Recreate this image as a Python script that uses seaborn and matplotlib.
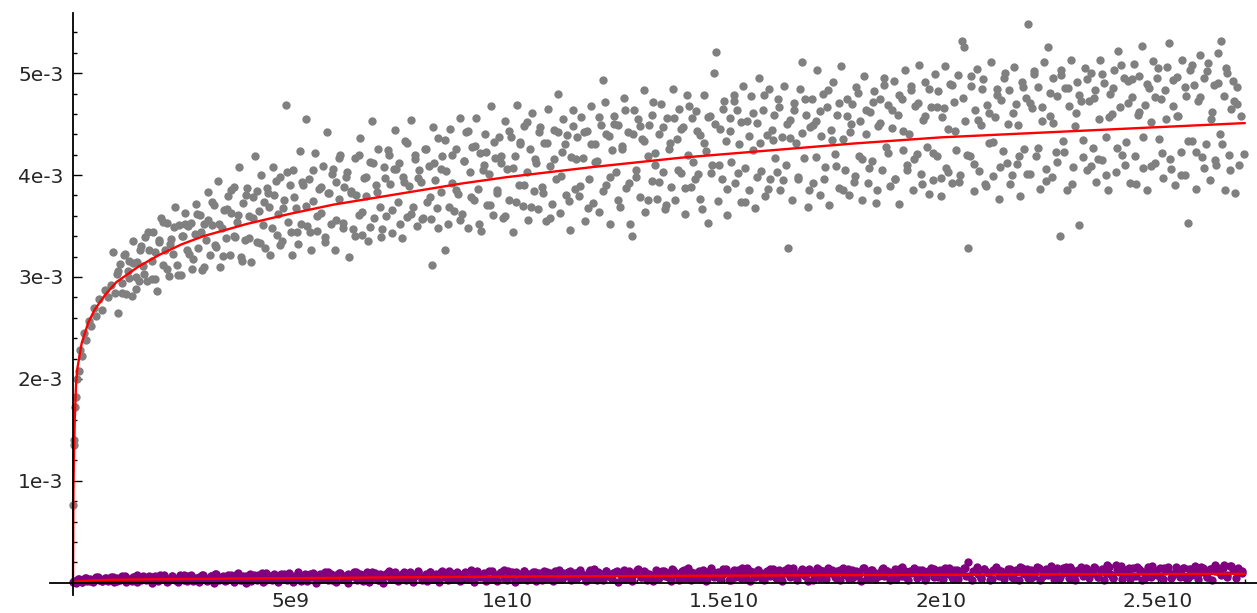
import numpy as np
import pandas as pd
import matplotlib
matplotlib.use("Agg")
import matplotlib.pyplot as plt
import seaborn as sns

# Gray scatter: x in units of 1e7, y in units of 1e-5
GRAY_X = [
    1, 2, 3, 5, 7, 10, 13, 17, 21, 26, 31, 36, 42, 48, 54, 60, 67, 74, 81, 88,
    93, 97, 101, 104, 108, 113, 117, 121, 126, 130, 135, 139, 144, 148, 153, 157, 162, 166, 171, 176,
    181, 185, 190, 194, 199, 203, 208, 212, 217, 221, 226, 230, 235, 239, 244, 248, 253, 257, 262, 266,
    271, 275, 280, 284, 289, 293, 298, 302, 307, 311, 316, 320, 325, 329, 334, 338, 343, 347, 352, 356,
    361, 365, 370, 374, 379, 383, 388, 392, 397, 401, 406, 410, 415, 419, 424, 428, 433, 437, 442, 446,
    451, 455, 460, 464, 469, 473, 478, 482, 487, 490, 495, 499, 504, 508, 513, 517, 522, 526, 531, 536,
    540, 544, 549, 553, 558, 562, 567, 571, 576, 580, 585, 589, 594, 598, 603, 607, 612, 616, 621, 625,
    630, 636, 640, 644, 649, 653, 658, 662, 667, 671, 676, 680, 685, 689, 694, 698, 703, 707, 712, 716,
    721, 725, 730, 734, 739, 743, 748, 752, 757, 761, 766, 770, 775, 779, 784, 788, 793, 797, 802, 806,
    811, 815, 820, 824, 827, 829, 833, 838, 842, 847, 851, 857, 860, 865, 869, 874, 878, 883, 887, 892,
    896, 901, 905, 910, 914, 919, 923, 928, 932, 937, 941, 946, 950, 955, 959, 964, 968, 973, 977, 982,
    986, 991, 995, 1000, 1004, 1009, 1013, 1018, 1022, 1027, 1031, 1036, 1040, 1045, 1049, 1054, 1058, 1063, 1067, 1072,
    1076, 1081, 1085, 1090, 1094, 1099, 1103, 1108, 1112, 1117, 1121, 1126, 1130, 1135, 1139, 1144, 1148, 1153, 1157, 1162,
    1166, 1171, 1175, 1180, 1184, 1189, 1193, 1198, 1202, 1207, 1211, 1216, 1220, 1225, 1229, 1234, 1238, 1243, 1247, 1252,
    1256, 1261, 1265, 1270, 1274, 1279, 1283, 1288, 1292, 1297, 1301, 1306, 1310, 1315, 1319, 1324, 1328, 1333, 1337, 1342,
    1346, 1351, 1355, 1360, 1364, 1369, 1373, 1378, 1382, 1387, 1391, 1396, 1400, 1405, 1409, 1414, 1418, 1423, 1427, 1432,
    1436, 1441, 1445, 1450, 1454, 1459, 1463, 1468, 1472, 1477, 1481, 1486, 1490, 1495, 1499, 1504, 1508, 1513, 1517, 1522,
    1526, 1531, 1535, 1540, 1544, 1549, 1553, 1558, 1562, 1567, 1571, 1576, 1580, 1585, 1589, 1594, 1598, 1603, 1607, 1612,
    1616, 1621, 1625, 1630, 1634, 1639, 1643, 1648, 1652, 1657, 1661, 1666, 1670, 1675, 1679, 1684, 1688, 1693, 1697, 1702,
    1706, 1711, 1715, 1720, 1724, 1729, 1733, 1738, 1742, 1747, 1751, 1756, 1760, 1765, 1769, 1774, 1778, 1783, 1787, 1792,
    1796, 1801, 1805, 1810, 1814, 1819, 1823, 1828, 1832, 1837, 1841, 1846, 1850, 1855, 1859, 1864, 1868, 1873, 1877, 1882,
    1886, 1891, 1895, 1900, 1904, 1909, 1913, 1918, 1922, 1927, 1931, 1936, 1940, 1945, 1949, 1954, 1958, 1963, 1967, 1972,
    1976, 1981, 1985, 1990, 1994, 1999, 2003, 2008, 2012, 2017, 2021, 2026, 2030, 2035, 2039, 2044, 2048, 2052, 2056, 2061,
    2066, 2070, 2075, 2079, 2084, 2088, 2093, 2097, 2102, 2106, 2111, 2115, 2120, 2124, 2129, 2133, 2138, 2142, 2147, 2151,
    2156, 2160, 2165, 2169, 2174, 2178, 2183, 2187, 2192, 2196, 2201, 2205, 2210, 2214, 2219, 2223, 2228, 2232, 2237, 2241,
    2246, 2250, 2255, 2259, 2264, 2268, 2273, 2277, 2282, 2286, 2291, 2295, 2300, 2304, 2309, 2313, 2318, 2322, 2327, 2331,
    2336, 2340, 2345, 2349, 2354, 2358, 2363, 2367, 2372, 2376, 2381, 2385, 2390, 2394, 2399, 2403, 2408, 2412, 2417, 2421,
    2426, 2430, 2435, 2439, 2444, 2448, 2453, 2457, 2462, 2466, 2471, 2475, 2480, 2484, 2489, 2493, 2498, 2502, 2507, 2511,
    2516, 2520, 2525, 2529, 2534, 2538, 2543, 2547, 2552, 2556, 2561, 2565, 2570, 2574, 2579, 2583, 2588, 2592, 2597, 2601,
    2606, 2610, 2615, 2619, 2624, 2628, 2633, 2637, 2642, 2646, 2651, 2655, 2660, 2664, 2669, 2673, 2678, 2682, 2687, 2692,
]
GRAY_Y = [
    76, 135, 140, 172, 182, 200, 208, 228, 222, 245, 238, 257, 252, 270, 262, 278, 268, 287, 280, 292,
    325, 284, 303, 265, 313, 294, 322, 283, 306, 316, 281, 335, 300, 315, 296, 330, 311, 339, 296, 326,
    298, 344, 325, 286, 336, 358, 312, 326, 353, 301, 337, 323, 369, 312, 351, 302, 340, 363, 326, 350,
    353, 308, 342, 372, 328, 361, 307, 352, 336, 383, 322, 351, 371, 329, 394, 310, 348, 366, 338, 379,
    322, 363, 388, 339, 354, 408, 320, 373, 336, 387, 360, 315, 378, 419, 334, 365, 400, 351, 328, 387,
    369, 322, 408, 380, 341, 362, 398, 335, 376, 469, 354, 390, 322, 405, 368, 344, 424, 352, 390, 455,
    350, 396, 326, 375, 422, 345, 386, 363, 409, 339, 442, 382, 352, 406, 326, 393, 377, 420, 348, 388,
    398, 320, 384, 347, 417, 380, 361, 436, 341, 397, 379, 335, 413, 453, 358, 390, 426, 369, 347, 408,
    360, 425, 391, 343, 406, 444, 374, 412, 338, 398, 433, 359, 389, 454, 369, 420, 350, 405, 393, 358,
    426, 374, 409, 357, 312, 447, 395, 368, 436, 383, 419, 326, 404, 352, 445, 392, 365, 426, 381, 456,
    362, 414, 442, 348, 403, 428, 376, 456, 386, 422, 345, 410, 440, 371, 401, 468, 361, 417, 385, 437,
    412, 358, 453, 406, 376, 437, 344, 419, 469, 390, 432, 370, 448, 403, 356, 426, 461, 384, 412, 367,
    447, 388, 431, 355, 465, 409, 372, 444, 396, 480, 363, 423, 455, 380, 439, 346, 418, 464, 386, 437,
    379, 457, 417, 355, 443, 396, 468, 373, 430, 414, 364, 449, 493, 472, 390, 438, 352, 425, 458, 403,
    449, 369, 426, 476, 387, 442, 352, 340, 464, 398, 455, 378, 435, 483, 364, 419, 449, 394, 472, 410,
    377, 440, 470, 403, 367, 456, 426, 388, 484, 376, 435, 465, 402, 447, 362, 479, 420, 388, 456, 396,
    463, 401, 439, 367, 479, 424, 353, 458, 410, 500, 521, 375, 445, 396, 473, 433, 361, 456, 413, 479,
    392, 464, 430, 374, 487, 407, 453, 385, 478, 425, 368, 451, 495, 404, 464, 379, 439, 484, 396, 434,
    459, 403, 475, 385, 437, 487, 410, 328, 454, 376, 471, 431, 396, 484, 511, 417, 459, 369, 447, 475,
    392, 453, 503, 380, 438, 480, 408, 467, 371, 444, 491, 421, 459, 387, 507, 435, 405, 475, 380, 450,
    470, 399, 486, 419, 453, 376, 497, 440, 392, 462, 414, 482, 373, 448, 475, 405, 495, 428, 469, 389,
    446, 492, 396, 459, 372, 475, 425, 503, 410, 440, 483, 385, 468, 421, 508, 401, 454, 491, 428, 381,
    467, 395, 499, 419, 482, 379, 457, 507, 407, 445, 489, 392, 472, 425, 498, 400, 532, 526, 453, 328,
    419, 487, 384, 464, 504, 404, 449, 494, 391, 469, 431, 511, 399, 457, 484, 377, 474, 424, 500, 412,
    483, 391, 461, 506, 411, 449, 379, 491, 426, 476, 548, 401, 466, 499, 419, 486, 386, 453, 511, 406,
    526, 458, 398, 495, 423, 478, 340, 503, 433, 485, 385, 468, 513, 408, 448, 491, 351, 473, 418, 505,
    405, 473, 500, 427, 483, 393, 455, 513, 415, 490, 437, 385, 480, 460, 503, 403, 522, 467, 420, 495,
    432, 492, 392, 477, 509, 419, 459, 497, 527, 407, 469, 385, 485, 452, 512, 412, 495, 435, 475, 397,
    483, 506, 530, 406, 468, 390, 496, 458, 423, 513, 400, 478, 353, 503, 433, 488, 386, 473, 518, 418,
    495, 430, 510, 395, 462, 488, 410, 520, 440, 532, 478, 385, 500, 420, 465, 492, 382, 470, 410, 458,
]
# denser core of the gray cloud
GRAY_X_CORE = [
    103, 112, 120, 129, 138, 146, 155, 164, 172, 181, 190, 198, 207, 216, 224, 233, 242, 250, 259, 268,
    276, 285, 294, 302, 311, 320, 328, 337, 346, 354, 363, 372, 380, 389, 398, 406, 415, 424, 432, 441,
    450, 458, 467, 476, 484, 493, 502, 510, 519, 528, 536, 545, 554, 562, 571, 580, 588, 597, 606, 614,
    623, 632, 640, 649, 658, 666, 675, 684, 692, 701, 710, 718, 727, 736, 744, 753, 762, 770, 779, 788,
    796, 805, 814, 822, 831, 840, 848, 857, 866, 874, 883, 892, 900, 909, 918, 926, 935, 944, 952, 961,
    969, 978, 987, 995, 1004, 1013, 1021, 1030, 1039, 1047, 1056, 1065, 1073, 1082, 1091, 1099, 1108, 1117, 1125, 1134,
    1142, 1151, 1160, 1168, 1177, 1186, 1194, 1203, 1212, 1220, 1229, 1238, 1246, 1255, 1264, 1272, 1281, 1290, 1298, 1307,
    1315, 1324, 1333, 1341, 1350, 1359, 1367, 1376, 1385, 1393, 1402, 1411, 1419, 1428, 1437, 1445, 1454, 1463, 1471, 1480,
    1488, 1497, 1506, 1514, 1523, 1532, 1540, 1549, 1558, 1566, 1575, 1584, 1592, 1601, 1610, 1618, 1627, 1636, 1644, 1653,
    1661, 1670, 1679, 1687, 1696, 1705, 1713, 1722, 1731, 1739, 1748, 1757, 1765, 1774, 1783, 1791, 1800, 1809, 1817, 1826,
    1834, 1843, 1852, 1860, 1869, 1878, 1886, 1895, 1904, 1912, 1921, 1930, 1938, 1947, 1956, 1964, 1973, 1982, 1990, 1999,
    2007, 2016, 2025, 2033, 2042, 2051, 2059, 2068, 2077, 2085, 2094, 2103, 2111, 2120, 2129, 2137, 2146, 2155, 2163, 2172,
    2180, 2189, 2198, 2206, 2215, 2224, 2232, 2241, 2250, 2258, 2267, 2276, 2284, 2293, 2302, 2310, 2319, 2328, 2336, 2345,
    2353, 2362, 2371, 2379, 2388, 2397, 2405, 2414, 2423, 2431, 2440, 2449, 2457, 2466, 2475, 2483, 2492, 2501, 2509, 2518,
    2527, 2535, 2544, 2553, 2561, 2570, 2579, 2587, 2596, 2605, 2613, 2622, 2631, 2639, 2648, 2657, 2665, 2674, 2683, 2697,
]
GRAY_Y_CORE = [
    306, 284, 323, 299, 314, 288, 326, 303, 344, 316, 298, 334, 354, 308, 332, 349, 302, 340, 352, 323,
    318, 362, 344, 310, 356, 374, 331, 352, 321, 367, 385, 340, 361, 316, 380, 338, 358, 384, 333, 374,
    382, 348, 394, 331, 368, 403, 344, 378, 332, 393, 370, 344, 405, 360, 388, 334, 382, 401, 356, 417,
    353, 403, 382, 340, 420, 364, 398, 349, 412, 383, 339, 397, 420, 366, 406, 352, 393, 431, 362, 416,
    397, 357, 426, 378, 412, 348, 406, 434, 369, 420, 385, 356, 414, 443, 378, 429, 352, 405, 423, 371,
    432, 382, 419, 360, 443, 407, 374, 430, 390, 452, 369, 416, 442, 382, 431, 358, 416, 442, 399, 430,
    375, 448, 416, 389, 442, 368, 430, 413, 457, 384, 440, 398, 450, 376, 429, 464, 392, 440, 405, 448,
    433, 376, 459, 422, 393, 447, 371, 431, 456, 405, 445, 387, 468, 413, 443, 377, 431, 457, 402, 450,
    410, 465, 386, 443, 473, 402, 452, 374, 438, 461, 398, 431, 479, 386, 444, 417, 467, 395, 450, 436,
    464, 398, 441, 475, 385, 449, 418, 463, 396, 483, 434, 409, 471, 385, 458, 442, 393, 481, 416, 464,
    407, 472, 385, 451, 488, 422, 464, 396, 479, 443, 405, 487, 416, 471, 391, 458, 484, 422, 467, 397,
    466, 403, 488, 443, 393, 476, 420, 497, 411, 454, 484, 389, 461, 432, 479, 408, 495, 450, 400, 470,
    419, 486, 401, 471, 502, 427, 467, 394, 481, 451, 413, 498, 423, 485, 391, 461, 479, 434, 494, 409,
    476, 416, 499, 400, 457, 485, 427, 508, 410, 471, 494, 391, 462, 437, 489, 409, 477, 505, 422, 455,
    416, 493, 458, 400, 486, 433, 508, 423, 477, 407, 502, 455, 415, 490, 430, 505, 405, 473, 486, 421,
]

# Purple scatter: x in units of 1e7, y in units of 1e-6
PURPLE_X = [
    1, 6, 13, 20, 27, 33, 40, 47, 54, 60, 67, 74, 81, 87, 94, 101, 108, 114, 121, 128,
    135, 141, 148, 155, 162, 168, 175, 182, 189, 195, 202, 209, 216, 222, 229, 236, 243, 249, 256, 263,
    270, 276, 283, 290, 297, 303, 310, 317, 324, 330, 337, 344, 351, 357, 364, 371, 378, 384, 391, 398,
    405, 411, 418, 425, 432, 438, 445, 452, 459, 465, 472, 479, 486, 492, 499, 506, 513, 519, 526, 533,
    540, 546, 553, 560, 567, 573, 580, 587, 594, 600, 607, 614, 621, 627, 634, 641, 648, 654, 661, 668,
    675, 681, 688, 695, 702, 708, 715, 722, 729, 735, 742, 749, 756, 762, 769, 776, 783, 789, 796, 803,
    810, 816, 823, 830, 837, 843, 850, 857, 864, 870, 877, 884, 891, 897, 904, 911, 918, 924, 931, 938,
    945, 951, 958, 965, 972, 978, 985, 992, 999, 1005, 1012, 1019, 1026, 1032, 1039, 1046, 1053, 1059, 1066, 1073,
    1080, 1086, 1093, 1100, 1107, 1113, 1120, 1127, 1134, 1140, 1147, 1154, 1161, 1167, 1174, 1181, 1188, 1194, 1201, 1208,
    1215, 1221, 1228, 1235, 1242, 1248, 1255, 1262, 1269, 1275, 1282, 1289, 1296, 1302, 1309, 1316, 1323, 1329, 1336, 1343,
    1350, 1356, 1363, 1370, 1377, 1383, 1390, 1397, 1404, 1410, 1417, 1424, 1431, 1437, 1444, 1451, 1458, 1464, 1471, 1478,
    1485, 1491, 1498, 1505, 1512, 1518, 1525, 1532, 1539, 1545, 1552, 1559, 1566, 1572, 1579, 1586, 1593, 1599, 1606, 1613,
    1620, 1626, 1633, 1640, 1647, 1653, 1660, 1667, 1674, 1680, 1687, 1694, 1701, 1707, 1714, 1721, 1728, 1734, 1741, 1748,
    1755, 1761, 1768, 1775, 1782, 1788, 1795, 1802, 1809, 1815, 1822, 1829, 1836, 1842, 1849, 1856, 1863, 1869, 1876, 1883,
    1890, 1896, 1903, 1910, 1917, 1923, 1930, 1937, 1944, 1950, 1957, 1964, 1971, 1977, 1984, 1991, 1998, 2004, 2011, 2018,
    2025, 2031, 2038, 2045, 2052, 2058, 2062, 2072, 2079, 2085, 2092, 2099, 2106, 2112, 2119, 2126, 2133, 2139, 2146, 2153,
    2160, 2166, 2173, 2180, 2187, 2193, 2200, 2207, 2214, 2220, 2227, 2234, 2241, 2247, 2254, 2261, 2268, 2274, 2281, 2288,
    2295, 2301, 2308, 2315, 2322, 2328, 2335, 2342, 2349, 2355, 2362, 2369, 2376, 2382, 2389, 2396, 2403, 2409, 2416, 2423,
    2430, 2436, 2443, 2450, 2457, 2463, 2470, 2477, 2484, 2490, 2497, 2504, 2511, 2517, 2524, 2531, 2538, 2544, 2551, 2558,
    2565, 2571, 2578, 2585, 2592, 2598, 2605, 2612, 2619, 2625, 2632, 2639, 2646, 2652, 2659, 2666, 2673, 2679, 2686, 2693,
]
PURPLE_Y = [
    7, 2, 37, 7, 51, 22, 37, 6, 59, 31, 14, 50, 22, 58, 6, 43, 28, 64, 12, 40,
    20, 58, 5, 41, 69, 29, 52, -1, 65, 17, 47, 75, 10, 41, 64, 26, 6, 58, 81, 22,
    67, 17, 48, 6, 80, 43, 23, 64, 1, 87, 31, 57, 15, 75, 42, 10, 90, 29, 63, 1,
    56, 14, 80, 32, 68, 3, 95, 48, 24, 76, 9, 56, 90, 30, 73, 3, 53, 101, 21, 66,
    16, 86, 57, 2, 75, 35, 106, 26, 83, 50, 11, 97, 41, 71, 1, 65, 110, 32, 82, 15,
    76, 9, 101, 56, 27, 90, 2, 70, 115, 41, 83, 18, 61, 102, 34, 96, 9, 67, 110, 27,
    65, 17, 101, 41, 84, 6, 116, 59, 27, 97, 49, 109, 15, 78, 93, 36, 123, 10, 73, 53,
    89, 14, 114, 39, 71, 22, 102, 122, 32, 65, 108, 8, 83, 51, 119, 26, 89, 106, 16, 77,
    30, 112, 50, 97, 14, 85, 128, 38, 71, 108, 23, 94, 49, 122, 66, 14, 104, 45, 133, 30,
    85, 23, 120, 70, 35, 108, 11, 81, 126, 48, 101, 21, 91, 137, 57, 115, 32, 77, 15, 97,
    42, 116, 63, 100, 18, 130, 80, 31, 114, 51, 144, 27, 94, 77, 39, 125, 15, 108, 140, 58,
    110, 35, 85, 136, 26, 99, 59, 123, 43, 76, 143, 21, 107, 52, 130, 82, 32, 117, 64, 134,
    43, 123, 21, 91, 141, 58, 113, 31, 98, 134, 69, 19, 109, 86, 144, 49, 119, 34, 96, 129,
    57, 117, 27, 140, 80, 40, 128, 66, 106, 21, 148, 91, 48, 124, 35, 99, 139, 62, 115, 27,
    102, 39, 135, 67, 118, 26, 96, 148, 48, 123, 73, 30, 113, 140, 58, 106, 130, 38, 91, 144,
    54, 127, 34, 109, 144, 67, 202, 30, 120, 88, 45, 138, 102, 25, 122, 150, 63, 116, 39, 96,
    136, 51, 101, 31, 143, 87, 42, 127, 64, 154, 27, 110, 132, 74, 117, 38, 143, 61, 98, 151,
    48, 125, 31, 109, 159, 69, 132, 42, 94, 142, 56, 119, 29, 175, 87, 47, 170, 105, 37, 125,
    115, 40, 147, 65, 133, 30, 100, 156, 56, 124, 76, 141, 38, 111, 151, 48, 91, 131, 61, 146,
    46, 138, 72, 122, 37, 152, 107, 57, 132, 32, 115, 147, 79, 178, 53, 163, 128, 43, 106, 98,
]
PURPLE_X_CORE = [
    3, 12, 21, 30, 39, 48, 57, 66, 75, 84, 93, 102, 111, 120, 129, 138, 147, 156, 165, 174,
    183, 192, 201, 210, 219, 228, 237, 246, 255, 264, 273, 282, 291, 300, 309, 318, 327, 336, 345, 354,
    363, 372, 381, 390, 399, 408, 417, 426, 435, 444, 453, 462, 471, 480, 489, 498, 507, 516, 525, 534,
    543, 552, 561, 570, 579, 588, 597, 606, 615, 624, 633, 642, 651, 660, 669, 678, 687, 696, 705, 714,
    723, 732, 741, 750, 759, 768, 777, 786, 795, 804, 813, 822, 831, 840, 849, 858, 867, 876, 885, 894,
    903, 912, 921, 930, 939, 948, 957, 966, 975, 984, 993, 1002, 1011, 1020, 1029, 1038, 1047, 1056, 1065, 1074,
    1083, 1092, 1101, 1110, 1119, 1128, 1137, 1146, 1155, 1164, 1173, 1182, 1191, 1200, 1209, 1218, 1227, 1236, 1245, 1254,
    1263, 1272, 1281, 1290, 1299, 1308, 1317, 1326, 1335, 1344, 1353, 1362, 1371, 1380, 1389, 1398, 1407, 1416, 1425, 1434,
    1443, 1452, 1461, 1470, 1479, 1488, 1497, 1506, 1515, 1524, 1533, 1542, 1551, 1560, 1569, 1578, 1587, 1596, 1605, 1614,
    1623, 1632, 1641, 1650, 1659, 1668, 1677, 1686, 1695, 1704, 1713, 1722, 1731, 1740, 1749, 1758, 1767, 1776, 1785, 1794,
    1803, 1812, 1821, 1830, 1839, 1848, 1857, 1866, 1875, 1884, 1893, 1902, 1911, 1920, 1929, 1938, 1947, 1956, 1965, 1974,
    1983, 1992, 2001, 2010, 2019, 2028, 2037, 2046, 2055, 2064, 2073, 2082, 2091, 2100, 2109, 2118, 2127, 2136, 2145, 2154,
    2163, 2172, 2181, 2190, 2199, 2208, 2217, 2226, 2235, 2244, 2253, 2262, 2271, 2280, 2289, 2298, 2307, 2316, 2325, 2334,
    2343, 2352, 2361, 2370, 2379, 2388, 2397, 2406, 2415, 2424, 2433, 2442, 2451, 2460, 2469, 2478, 2487, 2496, 2505, 2514,
    2523, 2532, 2541, 2550, 2559, 2568, 2577, 2586, 2595, 2604, 2613, 2622, 2631, 2640, 2649, 2658, 2667, 2676, 2685, 2694,
]
PURPLE_Y_CORE = [
    14, 35, 8, 46, 18, 39, 57, 14, 47, 33, 57, 15, 40, 66, 23, 54, 72, 30, 51, 64,
    56, 26, 73, 47, 20, 66, 41, 81, 27, 62, 77, 33, 56, 74, 21, 67, 87, 42, 70, 28,
    75, 49, 91, 26, 66, 84, 37, 72, 98, 25, 63, 89, 46, 82, 33, 95, 60, 77, 26, 88,
    66, 95, 35, 82, 53, 103, 28, 77, 94, 41, 87, 65, 108, 35, 80, 101, 51, 91, 30, 77,
    92, 38, 108, 71, 85, 29, 102, 62, 115, 45, 90, 108, 38, 81, 101, 62, 115, 35, 95, 73,
    103, 38, 88, 117, 64, 99, 34, 111, 77, 95, 45, 120, 70, 102, 33, 116, 83, 51, 109, 91,
    44, 104, 82, 120, 33, 98, 73, 115, 51, 109, 89, 29, 126, 79, 105, 45, 120, 70, 97, 114,
    96, 41, 116, 78, 128, 59, 107, 89, 29, 122, 72, 113, 53, 136, 93, 38, 121, 79, 107, 49,
    114, 82, 38, 128, 95, 55, 135, 106, 31, 121, 89, 141, 49, 113, 80, 127, 37, 102, 134, 62,
    101, 35, 128, 88, 141, 53, 113, 79, 134, 29, 106, 126, 62, 146, 94, 45, 123, 85, 137, 50,
    118, 84, 141, 44, 126, 98, 62, 147, 112, 35, 132, 89, 152, 58, 118, 138, 70, 126, 43, 108,
    133, 58, 113, 147, 89, 39, 127, 104, 141, 64, 120, 152, 50, 132, 98, 35, 145, 111, 86, 139,
    53, 126, 151, 93, 137, 44, 112, 144, 70, 130, 160, 103, 38, 141, 115, 151, 63, 126, 92, 144,
    119, 156, 54, 134, 99, 150, 43, 125, 165, 90, 140, 67, 153, 113, 50, 134, 161, 98, 61, 144,
    128, 64, 156, 116, 144, 48, 135, 165, 97, 149, 59, 132, 172, 107, 142, 73, 160, 123, 146, 113,
]

# Red fitted curves: x in units of 1e9
GRAY_FIT_X = [0, 0.005, 0.01, 0.02, 0.04, 0.07, 0.1, 0.2, 0.35, 0.5, 0.75, 1, 1.5, 2, 2.5, 3,
              4, 5, 6, 7, 8, 9, 10, 12, 14, 16, 18, 20, 22, 24, 26, 27]
GRAY_FIT_Y = [0, 0.5, 0.9, 1.2, 1.6, 1.95, 2.1, 2.35, 2.55, 2.68, 2.83, 2.95, 3.1, 3.22, 3.32, 3.4,
              3.52, 3.62, 3.71, 3.78, 3.85, 3.92, 3.98, 4.08, 4.17, 4.24, 4.31, 4.37, 4.41, 4.45, 4.49, 4.51]  # 1e-3
PURPLE_FIT_X = [0, 0.05, 0.2, 0.5, 1, 2, 3, 5, 8, 10, 12, 15, 18, 20, 22, 25, 27]
PURPLE_FIT_Y = [0, 10, 18, 25, 30, 35, 39, 45, 55, 60, 64, 70, 75, 78, 81, 85, 88]  # 1e-6

X_TICKS = [5e9, 1e10, 1.5e10, 2e10, 2.5e10]
X_TICK_LABELS = ["5e9", "1e10", "1.5e10", "2e10", "2.5e10"]
Y_TICKS = [1e-3, 2e-3, 3e-3, 4e-3, 5e-3]
Y_TICK_LABELS = ["1e-3", "2e-3", "3e-3", "4e-3", "5e-3"]


def to_frame(xs, ys, xscale, yscale):
    n = min(len(xs), len(ys))
    if len(xs) != len(ys):
        print("length mismatch", len(xs), len(ys))
    return pd.DataFrame({"x": np.array(xs[:n]) * xscale, "y": np.array(ys[:n]) * yscale})


gray = pd.concat([to_frame(GRAY_X, GRAY_Y, 1e7, 1e-5),
                  to_frame(GRAY_X_CORE, GRAY_Y_CORE, 1e7, 1e-5)], ignore_index=True)
purple = pd.concat([to_frame(PURPLE_X, PURPLE_Y, 1e7, 1e-6),
                    to_frame(PURPLE_X_CORE, PURPLE_Y_CORE, 1e7, 1e-6)], ignore_index=True)
gray_fit = to_frame(GRAY_FIT_X, GRAY_FIT_Y, 1e9, 1e-3)
purple_fit = to_frame(PURPLE_FIT_X, PURPLE_FIT_Y, 1e9, 1e-6)

sns.set_style("white")
plt.rcParams["font.family"] = ["DejaVu Sans"]

fig = plt.figure(figsize=(12.57, 6.13), dpi=100)
ax = fig.add_axes([50 / 1257, 18 / 613, 1207 / 1257, 582 / 613])

sns.scatterplot(data=gray, x="x", y="y", ax=ax, color="#808080", s=36, linewidth=0, zorder=2)
sns.lineplot(data=gray_fit, x="x", y="y", ax=ax, color="red", linewidth=1.7, zorder=3)
sns.scatterplot(data=purple, x="x", y="y", ax=ax, color="#800080", s=36, linewidth=0, zorder=4)
sns.lineplot(data=purple_fit, x="x", y="y", ax=ax, color="red", linewidth=1.7, zorder=5)

ax.set_xlim(-0.53e9, 2.728e10)
ax.set_ylim(-0.12e-3, 5.59e-3)
ax.set_xlabel("")
ax.set_ylabel("")

# Sage-like axes crossing at the origin
for side in ["top", "right"]:
    ax.spines[side].set_visible(False)
for side in ["left", "bottom"]:
    ax.spines[side].set_position(("data", 0))
    ax.spines[side].set_color("black")
    ax.spines[side].set_linewidth(1.3)
    ax.spines[side].set_zorder(6)

ax.set_xticks(X_TICKS)
ax.set_xticklabels(X_TICK_LABELS)
ax.set_yticks(Y_TICKS)
ax.set_yticklabels(Y_TICK_LABELS)
ax.set_xticks(np.arange(1e9, 2.71e10, 1e9), minor=True)
ax.set_yticks(np.arange(2e-4, 5.5e-3, 2e-4), minor=True)
ax.tick_params(which="major", direction="in", length=6.5, width=1, color="black",
               labelsize=14.5, pad=7)
ax.tick_params(which="minor", direction="in", length=3, width=1, color="black")
ax.tick_params(axis="both", which="both", bottom=True, left=True)
ax.grid(False)

fig.savefig("out.png", dpi=100)
